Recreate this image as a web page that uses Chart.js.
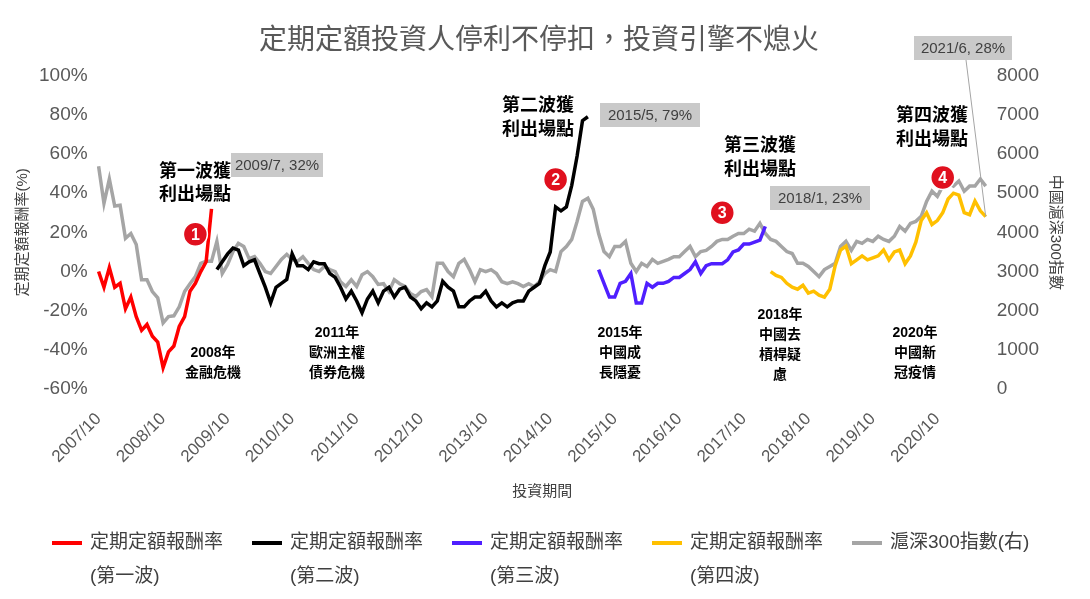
<!DOCTYPE html>
<html>
<head>
<meta charset="utf-8">
<script src="https://cdn.jsdelivr.net/npm/chart.js@4/dist/chart.umd.min.js"></script>
<style>
  html, body { margin: 0; padding: 0; background: #fff; }
  #wrap { width: 1090px; height: 599px; position: relative; }
</style>
</head>
<body>
<div id="wrap"><canvas id="myChart" width="1090" height="599"></canvas></div>
<script>
var FONT = '"Liberation Sans", "Noto Sans CJK TC", sans-serif';

// monthly, 2007/10 .. 2021/7
var startYear = 2007, startMonth = 10, monthCount = 166;

// CSI 300 index (right axis)
var csi300 = [5690,4740,5360,4670,4690,
  3850,3970,3690,2790,2790,2490,2330,1690,1850,1870,
  2100,2490,2690,2870,3210,3260,3260,3770,2950,3180,
  3510,3720,3640,3330,3380,3210,3000,2950,3130,
  3310,3440,3310,3260,3380,3210,3050,3000,3130,3050,
  3000,2740,2620,2790,2620,2920,3000,2870,2670,
  2690,2490,2790,2690,2620,2440,2360,2490,2540,
  2360,3210,3210,3000,2870,3210,3310,3050,2740,3050,
  3000,3050,2950,2740,2690,2740,2690,2620,
  2690,2620,2740,2950,3050,3000,3510,3640,3820,4280,
  4790,4870,4590,3970,3510,3380,3640,3640,3770,3210,
  3000,3210,3130,3310,3210,3260,3310,3380,3380,
  3510,3640,3380,3510,3540,3640,3770,3820,3820,
  3900,3970,3970,4080,4030,4230,3970,3820,3770,
  3640,3510,3460,3210,3210,3130,3000,2870,3050,3130,
  3210,3640,3770,3540,3770,3720,3820,3770,3900,
  3820,3770,3900,4150,4030,4230,4280,4410,4790,5050,
  4920,5180,5260,5180,5310,5050,5180,5180,5360,5180];

// return of each wave (%), with first month index
var wave1Start = 0;
var wave1 = [0,-8,2,-8,-6,-19,-13,-23,-30,-27,-33,-36,-49,-41,-38,-28,-23,-10,-6,0,5,32];
var wave2Start = 22;
var wave2 = [1,5,9,12,11,3,5,6,-1,-8,-16,-8,-6,-4,9,3,3,1,5,4,
  4,-1,-3,-8,-14,-10,-15,-21,-14,-10,-16,-10,-8,-13,-9,-8,-13,-15,-19,
  -16,-18,-15,-5,-8,-10,-18,-18,-15,-13,-13,-10,-15,-18,-16,-18,-16,
  -15,-15,-10,-8,-6,3,10,33,31,33,44,59,77,79];
var wave3Start = 93;
var wave3 = [1,-6,-13,-13,-6,-5,-1,-16,-16,-6,-8,-6,-6,-5,-3,-3,-1,1,5,-1,
  3,4,4,4,6,10,11,14,14,15,16,23];
var wave4Start = 125;
var wave4 = [0,-2,-3,-6,-8,-9,-7,-11,-10,-12,-13,-9,3,11,13,4,6,8,6,7,8,11,6,10,
  11,4,8,15,26,30,24,26,30,37,40,39,30,29,36,31,28];

var labels = [];
for (var i = 0; i < monthCount; i++) {
  var m = startMonth - 1 + i;
  labels.push((startYear + Math.floor(m / 12)) + '/' + (m % 12 + 1));
}

function place(start, values) {
  var out = new Array(monthCount).fill(null);
  values.forEach(function (v, k) { out[start + k] = v; });
  return out;
}

var legendItems = [
  { color: '#ff0000', t1: '定期定額報酬率', t2: '(第一波)' },
  { color: '#000000', t1: '定期定額報酬率', t2: '(第二波)' },
  { color: '#4f1fff', t1: '定期定額報酬率', t2: '(第三波)' },
  { color: '#ffc000', t1: '定期定額報酬率', t2: '(第四波)' },
  { color: '#a5a5a5', t1: '滬深300指數(右)', t2: '' }
];

var notes = {
  id: 'notes',
  afterDatasetsDraw: function (chart) {
    var c = chart.ctx, x = chart.scales.x, y = chart.scales.y;
    c.save();
    c.textAlign = 'center';
    c.textBaseline = 'middle';

    function lines(arr, cx, cy, size, gap) {
      c.font = 'bold ' + size + 'px ' + FONT;
      c.fillStyle = '#000';
      arr.forEach(function (t, k) { c.fillText(t, cx, cy + k * gap); });
    }
    lines(['第一波獲', '利出場點'], 195, 172, 18, 23);
    lines(['第二波獲', '利出場點'], 538, 106, 18, 24);
    lines(['第三波獲', '利出場點'], 760, 146, 18, 24);
    lines(['第四波獲', '利出場點'], 932, 116, 18, 24);
    lines(['2008年', '金融危機'], 213, 353, 14, 20);
    lines(['2011年', '歐洲主權', '債券危機'], 337, 333, 14, 20);
    lines(['2015年', '中國成', '長隱憂'], 620, 333, 14, 20);
    lines(['2018年', '中國去', '槓桿疑', '慮'], 780, 315, 14, 20);
    lines(['2020年', '中國新', '冠疫情'], 915, 333, 14, 20);

    // leader line to the last point
    c.strokeStyle = '#a5a5a5';
    c.lineWidth = 1;
    c.beginPath();
    c.moveTo(966, 60);
    c.lineTo(x.getPixelForValue(165), y.getPixelForValue(28));
    c.stroke();

    function box(t, cx, cy, w) {
      c.fillStyle = '#c9c9c9';
      c.fillRect(cx - w / 2, cy - 12, w, 24);
      c.font = '15px ' + FONT;
      c.fillStyle = '#404040';
      c.fillText(t, cx, cy + 1);
    }
    box('2009/7, 32%', 277, 165, 92);
    box('2015/5, 79%', 650, 115, 100);
    box('2018/1, 23%', 820, 198, 100);
    box('2021/6, 28%', 963, 48, 98);

    function marker(n, idx, v) {
      var px = x.getPixelForValue(idx), py = y.getPixelForValue(v);
      c.beginPath();
      c.arc(px, py, 12, 0, Math.PI * 2);
      c.fillStyle = '#e0101e';
      c.fill();
      c.strokeStyle = '#fff';
      c.lineWidth = 1.5;
      c.stroke();
      c.font = 'bold 16px ' + FONT;
      c.fillStyle = '#fff';
      c.fillText(n, px, py + 1);
    }
    marker('1', 18, 19);
    marker('2', 85, 47);
    marker('3', 116, 30);
    marker('4', 157, 48);

    // legend
    c.textAlign = 'left';
    c.font = '19px ' + FONT;
    legendItems.forEach(function (it, k) {
      var lx = 52 + k * 200;
      c.strokeStyle = it.color;
      c.lineWidth = 4;
      c.beginPath();
      c.moveTo(lx, 543);
      c.lineTo(lx + 30, 543);
      c.stroke();
      c.fillStyle = '#404040';
      c.fillText(it.t1, lx + 38, 543);
      if (it.t2) c.fillText(it.t2, lx + 38, 577);
    });
    c.restore();
  }
};

function line(label, data, color, axis) {
  return {
    label: label, data: data, borderColor: color, backgroundColor: color,
    borderWidth: 3.5, pointRadius: 0, yAxisID: axis, spanGaps: false, tension: 0
  };
}

var ctx = document.getElementById('myChart').getContext('2d');
var myChart = new Chart(ctx, {
  type: 'line',
  data: {
    labels: labels,
    datasets: [
      line('wave1', place(wave1Start, wave1), '#ff0000', 'y'),
      line('wave2', place(wave2Start, wave2), '#000000', 'y'),
      line('wave3', place(wave3Start, wave3), '#4f1fff', 'y'),
      line('wave4', place(wave4Start, wave4), '#ffc000', 'y'),
      line('csi300', csi300, '#a5a5a5', 'y1')
    ]
  },
  options: {
    responsive: false,
    animation: false,
    layout: { padding: { top: 4, left: 10, right: 22, bottom: 94 } },
    plugins: {
      legend: { display: false },
      tooltip: { enabled: false },
      title: {
        display: true,
        text: '定期定額投資人停利不停扣，投資引擎不熄火',
        color: '#595959',
        font: { family: FONT, size: 28, weight: 'normal' },
        padding: { top: 20, bottom: 18 }
      }
    },
    scales: {
      x: {
        grid: { display: false },
        border: { display: false },
        ticks: {
          autoSkip: false, maxRotation: 45, minRotation: 45, padding: 12,
          color: '#595959', font: { family: FONT, size: 17 },
          callback: function (v, i) { return labels[i].endsWith('/10') ? labels[i] : ''; }
        },
        title: { display: true, text: '投資期間', color: '#404040', font: { family: FONT, size: 15 } }
      },
      y: {
        position: 'left', min: -60, max: 100,
        grid: { display: false },
        border: { display: false },
        ticks: { stepSize: 20, color: '#595959', font: { family: FONT, size: 19 },
          callback: function (v) { return v + '%'; } },
        title: { display: true, text: '定期定額報酬率(%)', color: '#404040', font: { family: FONT, size: 15 } }
      },
      y1: {
        position: 'right', min: 0, max: 8000,
        grid: { display: false },
        border: { display: false },
        ticks: { stepSize: 1000, color: '#595959', font: { family: FONT, size: 19 },
          callback: function (v) { return String(v); } },
        title: { display: true, text: '中國滬深300指數', color: '#404040', font: { family: FONT, size: 15 } }
      }
    }
  },
  plugins: [notes]
});
</script>
</body>
</html>
